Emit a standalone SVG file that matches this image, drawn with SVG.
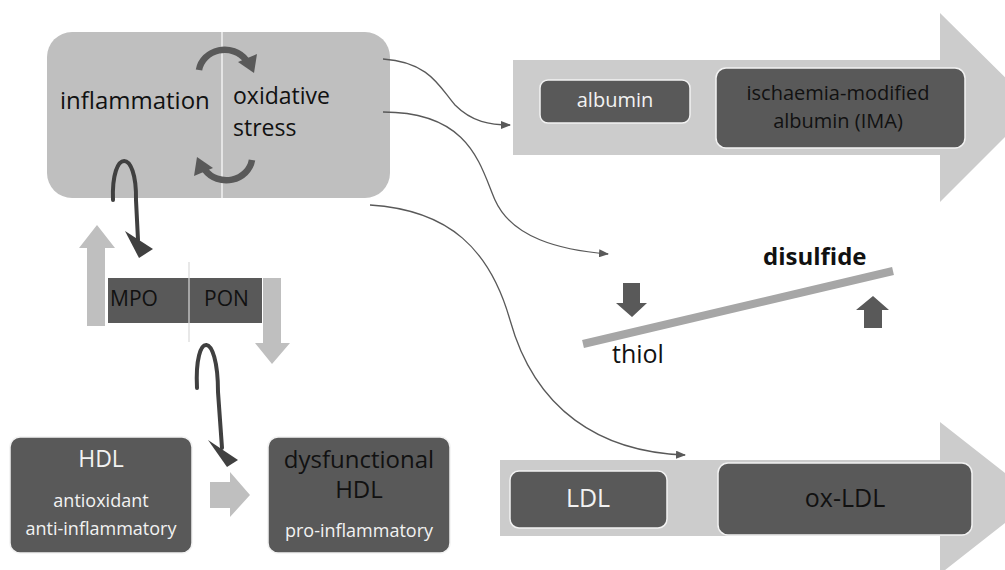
<svg xmlns="http://www.w3.org/2000/svg" width="1005" height="570" viewBox="0 0 1005 570">
<defs>
<style>
.t{font-family:"Open Sans","Noto Sans","Liberation Sans",sans-serif;}
.dark{fill:#595959;stroke:#f2f2f2;stroke-width:1.5;}
.big{fill:#cccccc;}
.blk{fill:#bfbfbf;}
.dk{fill:#595959;}
.con{fill:none;stroke:#595959;stroke-width:1.3;}
.loop{fill:none;stroke:#404040;stroke-width:4;stroke-linecap:round;}
</style>
<marker id="ah" markerWidth="10" markerHeight="8" refX="9" refY="4" orient="auto" markerUnits="userSpaceOnUse">
<path d="M0,0 L10,4 L0,8 Z" fill="#595959"/>
</marker>
</defs>
<rect width="1005" height="570" fill="#ffffff"/>

<g id="albumin-arrow">
<polygon class="big" points="513,60 940,60 940,13 1035,107 940,202 940,155 513,155"/>
<rect class="dark" x="540" y="80" width="150" height="43" rx="8"/>
<text class="t" x="615" y="107" font-size="20" fill="#f2f2f2" text-anchor="middle">albumin</text>
<rect class="dark" x="716" y="68" width="249" height="80" rx="10"/>
<text class="t" x="838" y="100" font-size="20" fill="#111" text-anchor="middle">ischaemia-modified</text>
<text class="t" x="838" y="128" font-size="20" fill="#111" text-anchor="middle">albumin (IMA)</text>
</g>

<g id="ldl-arrow">
<polygon class="big" points="500,460 940,460 940,422 1037,498 940,574 940,536 500,536"/>
<rect class="dark" x="510" y="471" width="157" height="57" rx="9"/>
<text class="t" x="588" y="507" font-size="25" fill="#f2f2f2" text-anchor="middle">LDL</text>
<rect class="dark" x="718" y="463" width="254" height="72" rx="10"/>
<text class="t" x="845" y="507" font-size="25" fill="#111" text-anchor="middle">ox-LDL</text>
</g>

<g id="thiol-disulfide">
<line x1="583" y1="344" x2="893" y2="271" stroke="#a6a6a6" stroke-width="8"/>
<polygon class="dk" points="623,283 640,283 640,303 647,303 632,317 616,303 623,303"/>
<polygon class="dk" points="864,328 882,328 882,310 889,310 873,296 856,310 864,310"/>
<text class="t" x="763" y="265" font-size="24" font-weight="bold" fill="#111">disulfide</text>
<text class="t" x="612" y="363" font-size="25" fill="#111">thiol</text>
</g>

<g id="inflammation-box">
<rect x="47" y="32" width="343" height="166" rx="25" fill="#bfbfbf"/>
<line x1="222" y1="32" x2="222" y2="198" stroke="#f2f2f2" stroke-width="1.5"/>
<path d="M199,70 A26,24 0 0 1 246,60" fill="none" stroke="#595959" stroke-width="6.5"/>
<polygon class="dk" points="238,62 257,54 254,73"/>
<path d="M252,160 A26,24 0 0 1 205,170" fill="none" stroke="#595959" stroke-width="6.5"/>
<polygon class="dk" points="213,168 194,176 197,157"/>
<text class="t" x="60" y="109" font-size="24" fill="#111">inflammation</text>
<text class="t" x="233" y="104" font-size="23" fill="#111">oxidative</text>
<text class="t" x="233" y="136" font-size="23" fill="#111">stress</text>
</g>

<g id="mpo-pon">
<polygon class="blk" points="87,326 105,326 105,248 115,248 97,225 79,248 87,248"/>
<rect x="108" y="278" width="154" height="45" fill="#595959"/>
<line x1="189" y1="262" x2="189" y2="342" stroke="#d9d9d9" stroke-width="1.2"/>
<text class="t" x="110" y="306" font-size="21" fill="#111">MPO</text>
<text class="t" x="204" y="306" font-size="21" fill="#111">PON</text>
<polygon class="blk" points="263,278 281,278 281,343 290,343 272,364 255,343 263,343"/>
</g>

<g id="hdl">
<rect class="dark" x="10" y="437" width="182" height="116" rx="10"/>
<text class="t" x="101" y="467" font-size="23" fill="#f2f2f2" text-anchor="middle">HDL</text>
<text class="t" x="101" y="507" font-size="18" fill="#f2f2f2" text-anchor="middle">antioxidant</text>
<text class="t" x="101" y="535" font-size="18" fill="#f2f2f2" text-anchor="middle">anti-inflammatory</text>
</g>

<g id="hdl-arrow">
<polygon class="blk" points="210,482 230,482 230,472 250,495 230,517 230,508 210,508"/>
</g>

<g id="dysfunctional-hdl">
<rect class="dark" x="268" y="437" width="182" height="116" rx="10"/>
<text class="t" x="359" y="468" font-size="24" fill="#111" text-anchor="middle">dysfunctional</text>
<text class="t" x="359" y="498" font-size="24" fill="#111" text-anchor="middle">HDL</text>
<text class="t" x="359" y="537" font-size="18" fill="#f2f2f2" text-anchor="middle">pro-inflammatory</text>
</g>

<g id="connectors">
<path class="con" d="M383,59 C430,62 440,88 455,105 C472,122 490,125 510,125" marker-end="url(#ah)"/>
<path class="con" d="M383,112 C470,112 480,165 495,200 C512,238 560,250 608,254" marker-end="url(#ah)"/>
<path class="con" d="M370,205 C450,210 490,250 510,320 C535,410 600,452 685,455" marker-end="url(#ah)"/>
<path class="loop" d="M113,200 C111,148 137,148 136,200 L138,240"/>
<polygon fill="#404040" points="125,231 153,249 139,258"/>
<path class="loop" d="M197,388 C194,330 218,330 218,392 L222,448"/>
<polygon fill="#404040" points="208,440 238,460 227,467"/>
</g>
</svg>
